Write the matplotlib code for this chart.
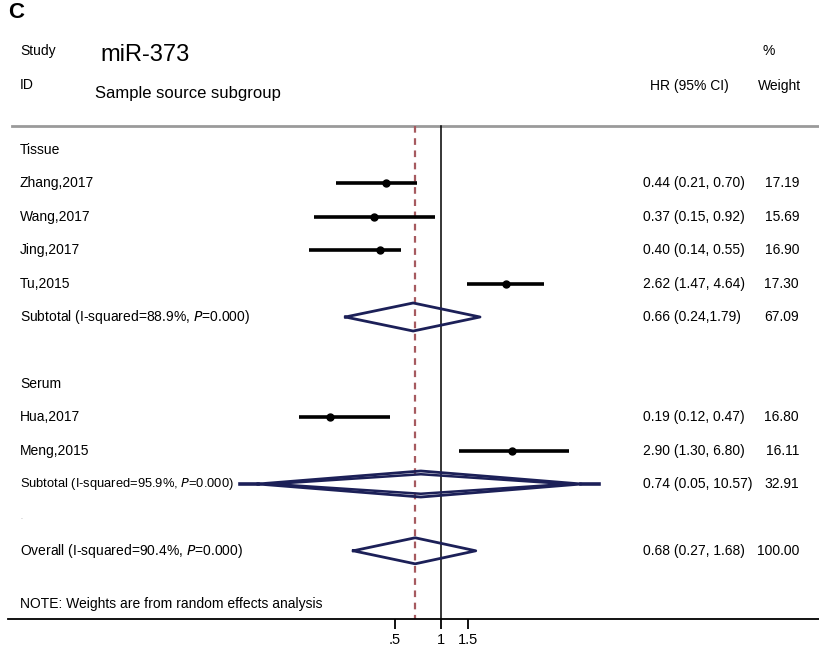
import numpy as np
import matplotlib
matplotlib.use("Agg")
import matplotlib.pyplot as plt
from matplotlib.transforms import blended_transform_factory

plt.rcParams['font.family'] = ['Liberation Sans', 'DejaVu Sans']

# study level data (HR and 95% CI)
studies = ["Zhang,2017", "Wang,2017", "Jing,2017", "Tu,2015", "Hua,2017", "Meng,2015"]
hr = [0.44, 0.37, 0.40, 2.62, 0.19, 2.90]
ci_lo = [0.21, 0.15, 0.14, 1.47, 0.12, 1.30]
ci_hi = [0.70, 0.92, 0.55, 4.64, 0.47, 6.80]
ci_text = ["0.44 (0.21, 0.70)", "0.37 (0.15, 0.92)", "0.40 (0.14, 0.55)",
           "2.62 (1.47, 4.64)", "0.19 (0.12, 0.47)", "2.90 (1.30, 6.80)"]
weights = ["17.19", "15.69", "16.90", "17.30", "16.80", "16.11"]
study_rows = [1, 2, 3, 4, 8, 9]

# pooled estimates
pooled_labels = ["Subtotal (I-squared=88.9%, ", "Subtotal (I-squared=95.9%, ",
                 "Overall (I-squared=90.4%, "]
pooled_hr = [0.66, 0.74, 0.68]
pooled_lo = [0.24, 0.05, 0.27]
pooled_hi = [1.79, 10.57, 1.68]
pooled_text = ["0.66 (0.24,1.79)", "0.74 (0.05, 10.57)", "0.68 (0.27, 1.68)"]
pooled_weights = ["67.09", "32.91", "100.00"]
pooled_rows = [5, 10, 12]

groups = ["Tissue", "Serum"]
group_rows = [0, 7]

W, H = 819, 648
fig = plt.figure(figsize=(W / 100, H / 100), dpi=100)
ax = fig.add_axes([8 / W, (H - 619) / H, (W - 8) / W, 619 / H])
ax.set_xscale('log')
scale = 67.0  # pixels per log unit
ax.set_xlim(np.exp(-433 / scale), np.exp(378 / scale))
ax.set_ylim((619 - 150) / 33.4, -150 / 33.4)
for s in ['top', 'left', 'right']:
    ax.spines[s].set_visible(False)
ax.spines['bottom'].set_linewidth(1.3)
ax.set_yticks([])
ax.set_xticks([0.5, 1, 1.5])
ax.set_xticklabels([".5", "1", "1.5"], fontsize=10.5)
ax.xaxis.set_minor_locator(matplotlib.ticker.NullLocator())
ax.tick_params(axis='x', length=7, width=1.3, pad=3)

top = (126 - 150) / 33.4
bottom = ax.get_ylim()[0]
ax.axhline(top, color='#9a9a9a', lw=2, xmin=4 / 811)
ax.plot([1, 1], [top, bottom], color='black', lw=1.1)
ax.plot([pooled_hr[2]] * 2, [top, bottom], color='#a65a5f', lw=1.6, ls=(0, (3, 2.5)))

# study CIs and points
for r, e, lo, hi in zip(study_rows, hr, ci_lo, ci_hi):
    ax.plot([lo, hi], [r, r], color='black', lw=2.6, solid_capstyle='butt')
    ax.plot(e, r, 'o', color='black', ms=5)

# diamonds
navy = '#1c2058'
for r, e, lo, hi in zip(pooled_rows, pooled_hr, pooled_lo, pooled_hi):
    h = 0.42 if r == 5 else 0.39
    if hi / lo > 100:
        # wide diamond drawn with a doubled outline and a bar at the tips
        ax.plot([lo, lo * 1.3], [r, r], color=navy, lw=2.6)
        ax.plot([hi / 1.3, hi], [r, r], color=navy, lw=2.6)
        ax.plot([lo * 1.3, e, hi / 1.3, e, lo * 1.3], [r, r - h, r, r + h, r], color=navy, lw=2)
        ax.plot([lo * 1.6, e, hi / 1.6, e, lo * 1.6],
                [r, r - h * 0.75, r, r + h * 0.75, r], color=navy, lw=1.8)
    else:
        ax.plot([lo, e, hi, e, lo], [r, r - h, r, r + h, r], color=navy, lw=2)

# text columns (x in figure pixels)
tr = blended_transform_factory(fig.transFigure, ax.transData)
px = lambda p: p / W
fs = 10

fig.text(px(8), 1 - 13 / H, "C", fontsize=16, fontweight='bold', va='center')
ax.text(px(20), -2.95, "Study", transform=tr, fontsize=fs, va='center')
ax.text(px(100), -2.85, "miR-373", transform=tr, fontsize=17, va='center')
ax.text(px(20), -1.95, "ID", transform=tr, fontsize=fs, va='center')
ax.text(px(95), -1.7, "Sample source subgroup", transform=tr, fontsize=12, va='center')
ax.text(px(650), -1.92, "HR (95% CI)", transform=tr, fontsize=fs, va='center')
ax.text(px(801), -1.92, "Weight", transform=tr, fontsize=fs, va='center', ha='right')
ax.text(px(769), -2.95, "%", transform=tr, fontsize=fs, va='center', ha='center')

for g, r in zip(groups, group_rows):
    ax.text(px(20), r, g, transform=tr, fontsize=fs, va='center')

for name, r, t, w in zip(studies, study_rows, ci_text, weights):
    ax.text(px(20), r, name, transform=tr, fontsize=fs, va='center')
    ax.text(px(643), r, t, transform=tr, fontsize=fs, va='center')
    ax.text(px(799), r, w, transform=tr, fontsize=fs, va='center', ha='right')

for lab, r, t, w in zip(pooled_labels, pooled_rows, pooled_text, pooled_weights):
    # the serum subtotal label is squeezed in the original to fit before the diamond
    size = fs * 0.93 if r == 10 else fs
    ax.text(px(20), r, lab + r"$\it{P}$" + "=0.000)", transform=tr, fontsize=size, va='center')
    ax.text(px(643), r, t, transform=tr, fontsize=fs, va='center')
    ax.text(px(799), r, w, transform=tr, fontsize=fs, va='center', ha='right')

ax.text(px(20), 11, ".", transform=tr, fontsize=5, va='center', color='#999999')
ax.text(px(20), (604 - 150) / 33.4, "NOTE: Weights are from random effects analysis",
        transform=tr, fontsize=fs, va='center')

fig.savefig("out.png", dpi=100)
